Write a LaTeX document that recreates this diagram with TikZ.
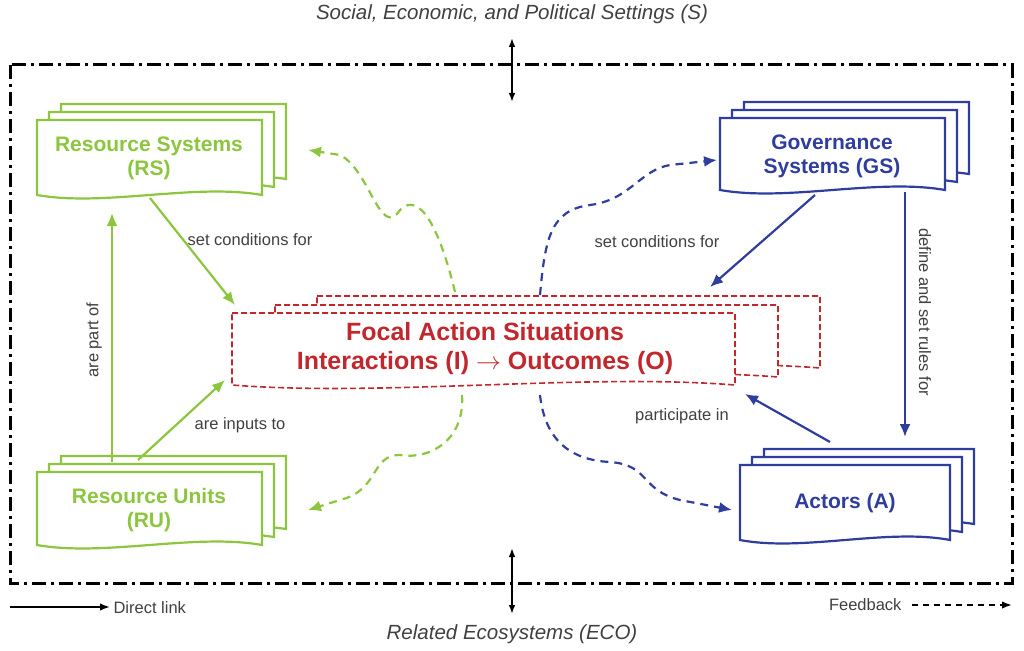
\documentclass[tikz,border=0pt]{standalone}
\usepackage{fontspec}
\setmainfont{Liberation Sans}
\usetikzlibrary{arrows.meta}
\definecolor{gr}{HTML}{8CC63F}
\definecolor{bl}{HTML}{2E3D9E}
\definecolor{rd}{HTML}{C1272D}
\newcommand\docshape[5]{\draw[#5] (#1,#2) -- (#3,#2) -- (#3,#4) .. controls ({#3-0.3*(#3-#1)},{#4-12}) and ({#1+0.3*(#3-#1)},{#4+12}) .. (#1,#4) -- cycle;}
\newcommand\stack[5]{\docshape{#1+24}{#2-16}{#3+24}{#4-16}{#5}\docshape{#1+12}{#2-8}{#3+12}{#4-8}{#5}\docshape{#1}{#2}{#3}{#4}{#5}}
\tikzset{
 gbox/.style={draw=gr,line width=2.2pt,fill=white},
 bbox/.style={draw=bl,line width=2.2pt,fill=white},
 rbox/.style={draw=rd,line width=1.6pt,fill=white,dash pattern=on 6pt off 3pt},
 lbl/.style={font=\fontsize{21}{24}\selectfont\bfseries,align=center},
 sm/.style={font=\fontsize{16.5}{19}\selectfont,text=black!75},
 arr/.style={line width=2.2pt,-{Latex[length=13pt,width=11pt]}},
 darr/.style={line width=2.2pt,dash pattern=on 8pt off 6pt,-{Latex[length=13pt,width=11pt]}},
}
\begin{document}
\begin{tikzpicture}[x=1pt,y=-1pt]
\useasboundingbox (0,0) rectangle (1024,650);
\node[font=\fontsize{20.5}{24}\selectfont\itshape,text=black!75] (ts) at (512,14) {Social, Economic, and Political Settings (S)};
\node[font=\fontsize{20.5}{24}\selectfont\itshape,text=black!75] (tb) at (512,634) {Related Ecosystems (ECO)};
\draw[line width=3pt,dash pattern=on 14pt off 5pt on 3pt off 5pt] (10,65) rectangle (1012,583);
\coordinate (u1) at (512,38); \coordinate (u2) at (512,102);
\coordinate (d1) at (512,548); \coordinate (d2) at (512,614);
\draw[line width=1.8pt,{Latex[length=9pt]}-{Latex[length=9pt]}] (u1) -- (u2);
\draw[line width=1.8pt,{Latex[length=9pt]}-{Latex[length=9pt]}] (d1) -- (d2);
% legend
\coordinate (l1) at (10,607); \coordinate (l2) at (110,607);
\draw[line width=1.8pt,-{Latex[length=10pt]}] (l1) -- (l2);
\node[sm,anchor=west] (dl) at (110,608) {Direct link};
\node[sm,anchor=east] (fb) at (905,605) {Feedback};
\coordinate (f1) at (912,605); \coordinate (f2) at (1012,605);
\draw[line width=1.8pt,dash pattern=on 6pt off 5pt,-{Latex[length=10pt]}] (f1) -- (f2);
% focal
\docshape{317}{296}{820}{368}{rbox}
\docshape{275}{305}{778}{377}{rbox}
\docshape{232}{313}{735}{385}{rbox}
\node[lbl,text=rd,font=\fontsize{25}{29}\selectfont\bfseries] (fo) at (485,349) {Focal Action Situations\\Interactions (I) $\rightarrow$ Outcomes (O)};
% RS
\stack{37}{120}{262}{195}{gbox}
\node[lbl,text=gr] (rs) at (149,158) {Resource Systems\\(RS)};
% RU
\stack{37}{472}{262}{545}{gbox}
\node[lbl,text=gr] (ru) at (149,510) {Resource Units\\(RU)};
% GS
\stack{720}{118}{945}{190}{bbox}
\node[lbl,text=bl] (gs) at (832,156) {Governance\\Systems (GS)};
% A
\stack{740}{465}{950}{540}{bbox}
\node[lbl,text=bl] (ac) at (845,503) {Actors (A)};
% solid arrows
\coordinate (a1) at (150,198); \coordinate (a2) at (235,305);
\draw[arr,gr] (a1) -- (a2);
\node[sm] (t1) at (250,240) {set conditions for};
\coordinate (b1) at (112,462); \coordinate (b2) at (112,213);
\draw[arr,gr] (b1) -- (b2);
\node[sm,rotate=90] (t2) at (94,340) {are part of};
\coordinate (c1) at (138,460); \coordinate (c2) at (225,380);
\draw[arr,gr] (c1) -- (c2);
\node[sm] (t3) at (240,425) {are inputs to};
\coordinate (e1) at (815,195); \coordinate (e2) at (710,287);
\draw[arr,bl] (e1) -- (e2);
\node[sm] (t4) at (657,242) {set conditions for};
\coordinate (g1) at (905,192); \coordinate (g2) at (905,437);
\draw[arr,bl] (g1) -- (g2);
\node[sm,rotate=-90] (t5) at (925,312) {define and set rules for};
\coordinate (h1) at (830,442); \coordinate (h2) at (745,394);
\draw[arr,bl] (h1) -- (h2);
\node[sm] (t6) at (682,416) {participate in};
% dashed feedback
\coordinate (p1) at (455,292); \coordinate (p2) at (308,150);
\draw[darr,gr] (p1) .. controls (440,230) and (420,190) .. (400,210) .. controls (380,240) and (370,170) .. (340,155) -- (p2);
\coordinate (q1) at (462,395); \coordinate (q2) at (308,510);
\draw[darr,gr] (q1) .. controls (465,440) and (430,460) .. (400,455) .. controls (370,455) and (380,490) .. (340,500) -- (q2);
\coordinate (r1) at (540,295); \coordinate (r2) at (717,160);
\draw[darr,bl] (r1) .. controls (545,240) and (550,210) .. (590,205) .. controls (630,200) and (640,170) .. (670,165) -- (r2);
\coordinate (s1) at (540,395); \coordinate (s2) at (732,510);
\draw[darr,bl] (s1) .. controls (545,440) and (570,460) .. (610,462) .. controls (650,465) and (640,490) .. (680,500) -- (s2);
\end{tikzpicture}
\end{document}
